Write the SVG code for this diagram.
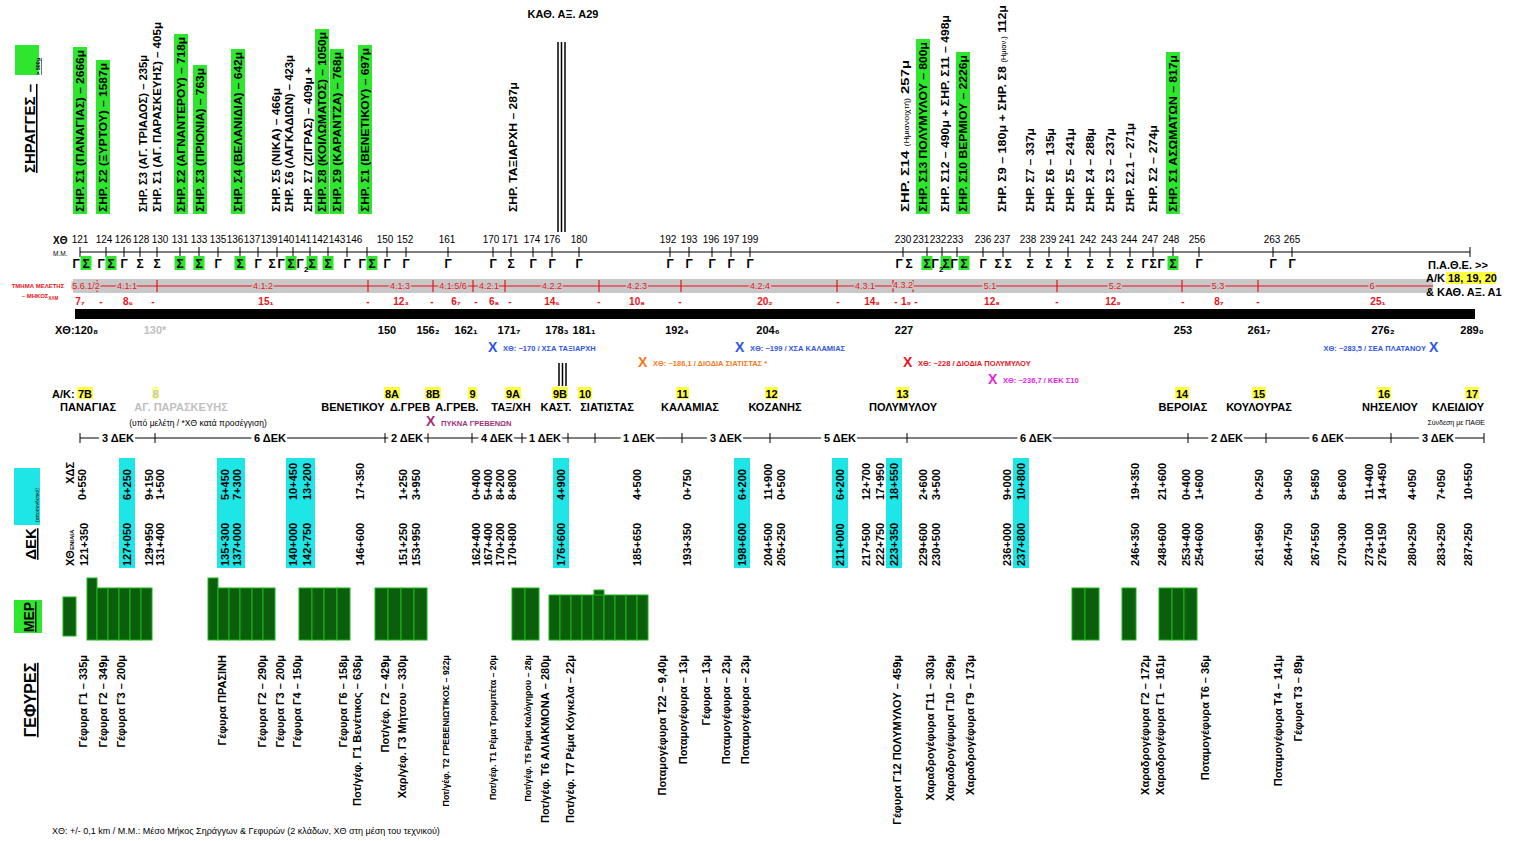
<svg xmlns="http://www.w3.org/2000/svg" width="1515" height="841" viewBox="0 0 1515 841">
<style>
text{font-family:"Liberation Sans",Arial,sans-serif;fill:#000}
.tun{font-size:11px;font-weight:bold}
.gr{fill:#2ee62e}
.cy{fill:#1ee6e6}
.yl{fill:#ffff3c}
.st{font-size:10px}
.ty{font-size:12px;font-weight:bold;text-anchor:middle}
.seg{font-size:9px;fill:#e8151b;text-anchor:middle;stroke:#c8c8c8;stroke-width:3px;paint-order:stroke}
.len{font-size:10px;font-weight:bold;fill:#e8151b;text-anchor:middle}
.ch{font-size:11px;font-weight:bold;text-anchor:middle}
.ak{font-size:11px;font-weight:bold;text-anchor:middle}
.nm{font-size:11px;font-weight:bold;text-anchor:middle}
.dek{font-size:11px;font-weight:bold;text-anchor:middle;stroke:#fff;stroke-width:6px;paint-order:stroke}
.dn{font-size:11px;font-weight:bold}
.br{font-size:11px;font-weight:bold;text-anchor:end}
.brs{font-size:8.8px;font-weight:bold;text-anchor:end}
.mep{fill:#0b5e0b;stroke:#1cb81c;stroke-width:1}
.tick{stroke:#000;stroke-width:1}
.rt{stroke:#e8151b;stroke-width:1.2}
.hd{font-weight:bold;text-decoration:underline}
.sv{font-size:7.5px;font-weight:bold}
</style>

<!-- left headers -->
<g id="hdr-tunnels">
<rect x="15" y="45" width="24" height="30" class="gr"/>
<text class="hd" font-size="15" text-anchor="start" transform="translate(35,173) rotate(-90)">ΣΗΡΑΓΓΕΣ –</text>
<text font-size="5.5" font-weight="bold" text-decoration="underline" transform="translate(40,75) rotate(-90)">&gt; 500μ</text>
</g>
<g id="hdr-dek">
<rect x="14" y="468" width="26" height="57" class="cy"/>
<text font-size="5" transform="translate(39,522) rotate(-90)">(αποσυνδετικό)</text>
<text class="hd" font-size="15" text-anchor="middle" transform="translate(36,544) rotate(-90)">ΔΕΚ</text>
</g>
<g id="hdr-mep">
<rect x="14" y="600" width="28" height="33" class="gr"/>
<text class="hd" font-size="14" text-anchor="middle" transform="translate(34,617) rotate(-90)">ΜΕΡ</text>
</g>
<g id="hdr-bridges">
<text class="hd" font-size="16" text-anchor="middle" transform="translate(36,700) rotate(-90)">ΓΕΦΥΡΕΣ</text>
</g>

<!-- tunnels -->
<g id="tunnels">
<rect x="73" y="47" width="14" height="167" class="gr"/>
<rect x="96" y="60" width="14" height="154" class="gr"/>
<rect x="174" y="34" width="14" height="180" class="gr"/>
<rect x="193" y="65" width="14" height="149" class="gr"/>
<rect x="231" y="49" width="14" height="165" class="gr"/>
<rect x="315" y="29" width="14" height="185" class="gr"/>
<rect x="330" y="49" width="14" height="165" class="gr"/>
<rect x="358" y="45" width="14" height="169" class="gr"/>
<rect x="916" y="39" width="14" height="175" class="gr"/>
<rect x="956" y="52" width="14" height="162" class="gr"/>
<rect x="1166" y="52" width="14" height="162" class="gr"/>
<text class="tun" lengthAdjust="spacingAndGlyphs" textLength="162" transform="translate(84,212) rotate(-90)">ΣΗΡ. Σ1 (ΠΑΝΑΓΙΑΣ) – 2666μ</text>
<text class="tun" lengthAdjust="spacingAndGlyphs" textLength="149" transform="translate(107,212) rotate(-90)">ΣΗΡ. Σ2 (ΞΥΡΤΟΥ) – 1587μ</text>
<text class="tun" lengthAdjust="spacingAndGlyphs" textLength="157" transform="translate(147,212) rotate(-90)">ΣΗΡ. Σ3 (ΑΓ. ΤΡΙΑΔΟΣ) – 235μ</text>
<text class="tun" lengthAdjust="spacingAndGlyphs" textLength="190" transform="translate(161,212) rotate(-90)">ΣΗΡ. Σ1 (ΑΓ. ΠΑΡΑΣΚΕΥΗΣ) – 405μ</text>
<text class="tun" lengthAdjust="spacingAndGlyphs" textLength="175" transform="translate(185,212) rotate(-90)">ΣΗΡ. Σ2 (ΑΓΝΑΝΤΕΡΟΥ) – 718μ</text>
<text class="tun" lengthAdjust="spacingAndGlyphs" textLength="144" transform="translate(204,212) rotate(-90)">ΣΗΡ. Σ3 (ΠΡΙΟΝΙΑ) – 763μ</text>
<text class="tun" lengthAdjust="spacingAndGlyphs" textLength="160" transform="translate(242,212) rotate(-90)">ΣΗΡ. Σ4 (ΒΕΛΑΝΙΔΙΑ) – 642μ</text>
<text class="tun" lengthAdjust="spacingAndGlyphs" textLength="124" transform="translate(280,212) rotate(-90)">ΣΗΡ. Σ5 (ΝΙΚΑ) – 466μ</text>
<text class="tun" lengthAdjust="spacingAndGlyphs" textLength="157" transform="translate(293,212) rotate(-90)">ΣΗΡ. Σ6 (ΛΑΓΚΑΔΙΩΝ) – 423μ</text>
<text class="tun" lengthAdjust="spacingAndGlyphs" textLength="145" transform="translate(312,212) rotate(-90)">ΣΗΡ. Σ7 (ΖΙΓΡΑΣ) – 409μ +</text>
<text class="tun" lengthAdjust="spacingAndGlyphs" textLength="180" transform="translate(326,212) rotate(-90)">ΣΗΡ. Σ8 (ΚΟΙΛΩΜΑΤΟΣ) – 1050μ</text>
<text class="tun" lengthAdjust="spacingAndGlyphs" textLength="160" transform="translate(341,212) rotate(-90)">ΣΗΡ. Σ9 (ΚΑΡΑΝΤΖΑ) – 768μ</text>
<text class="tun" lengthAdjust="spacingAndGlyphs" textLength="164" transform="translate(369,212) rotate(-90)">ΣΗΡ. Σ1 (ΒΕΝΕΤΙΚΟΥ) – 697μ</text>
<text class="tun" lengthAdjust="spacingAndGlyphs" textLength="130" transform="translate(517,212) rotate(-90)">ΣΗΡ. ΤΑΞΙΑΡΧΗ – 287μ</text>
<text class="tun" lengthAdjust="spacingAndGlyphs" textLength="152" transform="translate(909,212) rotate(-90)">ΣΗΡ. Σ14 <tspan font-size="6.5" font-weight="normal">(Ημιανοιχτή)</tspan> 257μ</text>
<text class="tun" lengthAdjust="spacingAndGlyphs" textLength="170" transform="translate(927,212) rotate(-90)">ΣΗΡ. Σ13 ΠΟΛΥΜΥΛΟΥ – 800μ</text>
<text class="tun" lengthAdjust="spacingAndGlyphs" textLength="197" transform="translate(949,212) rotate(-90)">ΣΗΡ. Σ12 – 490μ + ΣΗΡ. Σ11 – 498μ</text>
<text class="tun" lengthAdjust="spacingAndGlyphs" textLength="157" transform="translate(967,212) rotate(-90)">ΣΗΡ. Σ10 ΒΕΡΜΙΟΥ – 2226μ</text>
<text class="tun" lengthAdjust="spacingAndGlyphs" textLength="207" transform="translate(1006,212) rotate(-90)">ΣΗΡ. Σ9 – 180μ + ΣΗΡ. Σ8 <tspan font-size="6.5" font-weight="normal">(Ημιαν.)</tspan> 112μ</text>
<text class="tun" lengthAdjust="spacingAndGlyphs" textLength="84" transform="translate(1034,212) rotate(-90)">ΣΗΡ. Σ7 – 337μ</text>
<text class="tun" lengthAdjust="spacingAndGlyphs" textLength="84" transform="translate(1054,212) rotate(-90)">ΣΗΡ. Σ6 – 135μ</text>
<text class="tun" lengthAdjust="spacingAndGlyphs" textLength="84" transform="translate(1074,212) rotate(-90)">ΣΗΡ. Σ5 – 241μ</text>
<text class="tun" lengthAdjust="spacingAndGlyphs" textLength="84" transform="translate(1094,212) rotate(-90)">ΣΗΡ. Σ4 – 288μ</text>
<text class="tun" lengthAdjust="spacingAndGlyphs" textLength="84" transform="translate(1114,212) rotate(-90)">ΣΗΡ. Σ3 – 237μ</text>
<text class="tun" lengthAdjust="spacingAndGlyphs" textLength="89" transform="translate(1134,212) rotate(-90)">ΣΗΡ. Σ2.1 – 271μ</text>
<text class="tun" lengthAdjust="spacingAndGlyphs" textLength="87" transform="translate(1157,212) rotate(-90)">ΣΗΡ. Σ2 – 274μ</text>
<text class="tun" lengthAdjust="spacingAndGlyphs" textLength="157" transform="translate(1177,212) rotate(-90)">ΣΗΡ. Σ1 ΑΣΩΜΑΤΩΝ – 817μ</text>
</g>

<!-- A29 crossing -->
<g id="a29">
<text x="563" y="18" font-size="11" font-weight="bold" text-anchor="middle">ΚΑΘ. ΑΞ. Α29</text>
<line x1="558" y1="42" x2="558" y2="232" stroke="#000" stroke-width="1.5"/>
<line x1="561.5" y1="42" x2="561.5" y2="232" stroke="#000" stroke-width="1.5"/>
<line x1="565" y1="42" x2="565" y2="232" stroke="#000" stroke-width="1.5"/>
<line x1="559" y1="363" x2="559" y2="386" stroke="#000" stroke-width="1.5"/>
<line x1="562.5" y1="363" x2="562.5" y2="386" stroke="#000" stroke-width="1.5"/>
<line x1="566" y1="363" x2="566" y2="386" stroke="#000" stroke-width="1.5"/>
</g>

<!-- station axis -->
<g id="axis">
<text x="53" y="244" font-size="10" font-weight="bold">ΧΘ</text>
<text x="53" y="256" font-size="6.5">Μ.Μ.</text>
<line x1="80" y1="252" x2="1470" y2="252" stroke="#000" stroke-width="1"/>
<g class="tick">
<path d="M80 247v10M106 247v10M124 247v10M140 247v10M157 247v10M180 247v10M199 247v10M218 247v10M240 247v10M258 247v10M277 247v10M293 247v10M310 247v10M328 247v10M347 247v10M367 247v10M387 247v10M406 247v10M448 247v10M493 247v10M511 247v10M533 247v10M552 247v10M579 247v10M670 247v10M689 247v10M712 247v10M731 247v10M750 247v10M903 247v10M927 247v10M942 247v10M957 247v10M983 247v10M1003 247v10M1030 247v10M1049 247v10M1068 247v10M1090 247v10M1110 247v10M1130 247v10M1153 247v10M1173 247v10M1199 247v10M1273 247v10M1292 247v10M1470 247v10"/>
</g>
<g class="st" text-anchor="middle">
<text x="80" y="243">121</text><text x="104" y="243">124</text><text x="123" y="243">126</text><text x="141" y="243">128</text><text x="160" y="243">130</text><text x="180" y="243">131</text><text x="199" y="243">133</text><text x="218" y="243">135</text><text x="235" y="243">136</text><text x="252" y="243">137</text><text x="269" y="243">139</text><text x="286" y="243">140</text><text x="303" y="243">141</text><text x="320" y="243">142</text><text x="337" y="243">143</text><text x="354" y="243">146</text><text x="385" y="243">150</text><text x="405" y="243">152</text><text x="447" y="243">161</text><text x="491" y="243">170</text><text x="510" y="243">171</text><text x="532" y="243">174</text><text x="552" y="243">176</text><text x="579" y="243">180</text><text x="668" y="243">192</text><text x="689" y="243">193</text><text x="711" y="243">196</text><text x="731" y="243">197</text><text x="750" y="243">199</text><text x="903" y="243">230</text><text x="921" y="243">231</text><text x="938" y="243">232</text><text x="955" y="243">233</text><text x="983" y="243">236</text><text x="1002" y="243">237</text><text x="1028" y="243">238</text><text x="1048" y="243">239</text><text x="1067" y="243">241</text><text x="1088" y="243">242</text><text x="1109" y="243">243</text><text x="1129" y="243">244</text><text x="1150" y="243">247</text><text x="1171" y="243">248</text><text x="1197" y="243">256</text><text x="1272" y="243">263</text><text x="1292" y="243">265</text>
</g>
</g>

<!-- structure types -->
<g id="types">
<g class="gr">
<rect x="80.5" y="256" width="11" height="14"/><rect x="105.5" y="256" width="11" height="14"/><rect x="174.5" y="256" width="11" height="14"/><rect x="193.5" y="256" width="11" height="14"/><rect x="234.5" y="256" width="11" height="14"/><rect x="285.5" y="256" width="11" height="14"/><rect x="306.5" y="256" width="11" height="14"/><rect x="322.5" y="256" width="11" height="14"/><rect x="366.5" y="256" width="11" height="14"/><rect x="921.5" y="256" width="11" height="14"/><rect x="940.5" y="256" width="11" height="14"/><rect x="958.5" y="256" width="11" height="14"/><rect x="1167.5" y="256" width="11" height="14"/>
</g>
<text class="ty" x="76" y="268">Γ</text><text class="ty" x="86" y="268">Σ</text>
<text class="ty" x="101" y="268">Γ</text><text class="ty" x="111" y="268">Σ</text>
<text class="ty" x="124" y="268">Γ</text><text class="ty" x="140" y="268">Σ</text><text class="ty" x="157" y="268">Σ</text>
<text class="ty" x="180" y="268">Σ</text><text class="ty" x="199" y="268">Σ</text><text class="ty" x="218" y="268">Γ</text>
<text class="ty" x="240" y="268">Σ</text><text class="ty" x="258" y="268">Γ</text>
<text class="ty" x="272" y="268">Σ</text><text class="ty" x="281" y="268">Γ</text>
<text class="ty" x="291" y="268">Σ</text><text class="ty" x="300" y="268">Γ</text><text x="304" y="272" font-size="8" font-weight="bold">2</text><text class="ty" x="312" y="268">Σ</text>
<text class="ty" x="328" y="268">Σ</text><text class="ty" x="347" y="268">Γ</text>
<text class="ty" x="362" y="268">Γ</text><text class="ty" x="372" y="268">Σ</text>
<text class="ty" x="387" y="268">Γ</text><text class="ty" x="406" y="268">Γ</text><text class="ty" x="448" y="268">Γ</text>
<text class="ty" x="493" y="268">Γ</text><text class="ty" x="511" y="268">Σ</text><text class="ty" x="533" y="268">Γ</text><text class="ty" x="552" y="268">Γ</text><text class="ty" x="579" y="268">Γ</text>
<text class="ty" x="670" y="268">Γ</text><text class="ty" x="689" y="268">Γ</text><text class="ty" x="712" y="268">Γ</text><text class="ty" x="731" y="268">Γ</text><text class="ty" x="750" y="268">Γ</text>
<text class="ty" x="899" y="268">Γ</text><text class="ty" x="909" y="268">Σ</text>
<text class="ty" x="927" y="268">Σ</text>
<text class="ty" x="935" y="268">Γ</text><text x="939" y="272" font-size="8" font-weight="bold">2</text><text class="ty" x="946" y="268">Σ</text>
<text class="ty" x="954" y="268">Γ</text><text class="ty" x="964" y="268">Σ</text>
<text class="ty" x="983" y="268">Γ</text><text class="ty" x="998" y="268">Σ</text><text class="ty" x="1008" y="268">Σ</text>
<text class="ty" x="1030" y="268">Σ</text><text class="ty" x="1049" y="268">Σ</text><text class="ty" x="1068" y="268">Σ</text><text class="ty" x="1090" y="268">Σ</text><text class="ty" x="1110" y="268">Σ</text><text class="ty" x="1130" y="268">Σ</text>
<text class="ty" x="1145" y="268">Γ</text><text class="ty" x="1153" y="268">Σ</text><text class="ty" x="1161" y="268">Γ</text>
<text class="ty" x="1173" y="268">Σ</text><text class="ty" x="1199" y="268">Γ</text><text class="ty" x="1273" y="268">Γ</text><text class="ty" x="1292" y="268">Γ</text>
</g>

<!-- study sections -->
<g id="sections">
<text x="38" y="288" font-size="6" font-weight="bold" text-anchor="middle" style="fill:#e8151b">ΤΜΗΜΑ ΜΕΛΕΤΗΣ</text>
<text x="40" y="298" font-size="6" font-weight="bold" text-anchor="middle" style="fill:#e8151b">– ΜΗΚΟΣ<tspan font-size="4.5" dy="1.5">ΧΛΜ</tspan></text>
<rect x="73" y="279" width="1360" height="14" fill="#c8c8c8"/>
<line x1="97" y1="286" x2="1433" y2="286" class="rt"/>
<path class="rt" d="M97 280v12M157 280v12M368 280v12M433 280v12M473 280v12M505 280v12M599 280v12M681 280v12M837 280v12M893 280v12M913 280v12M1057 280v12M1182 280v12M1258 280v12"/>
<text class="seg" x="86" y="289" font-size="6">5.6.1/2</text>
<text class="seg" x="127" y="289">4.1.1</text>
<text class="seg" x="263" y="289">4.1.2</text>
<text class="seg" x="400" y="289">4.1.3</text>
<text class="seg" x="453" y="289">4.1.5/6</text>
<text class="seg" x="489" y="289">4.2.1</text>
<text class="seg" x="552" y="289">4.2.2</text>
<text class="seg" x="637" y="289">4.2.3</text>
<text class="seg" x="760" y="289">4.2.4</text>
<text class="seg" x="865" y="289">4.3.1</text>
<text class="seg" x="903" y="288" font-size="6">4.3.2</text>
<text class="seg" x="990" y="289">5.1</text>
<text class="seg" x="1115" y="289">5.2</text>
<text class="seg" x="1218" y="289">5.3</text>
<text class="seg" x="1372" y="289">6</text>
<text class="len" x="80" y="305">7₇</text><text class="len" x="101" y="305">-</text><text class="len" x="128" y="305">8₆</text><text class="len" x="153" y="305">-</text>
<text class="len" x="266" y="305">15₁</text><text class="len" x="368" y="305">-</text><text class="len" x="401" y="305">12₃</text><text class="len" x="432" y="305">-</text>
<text class="len" x="456" y="305">6₇</text><text class="len" x="476" y="305">-</text><text class="len" x="494" y="305">6₈</text><text class="len" x="510" y="305">-</text>
<text class="len" x="552" y="305">14₆</text><text class="len" x="599" y="305">-</text><text class="len" x="637" y="305">10₈</text><text class="len" x="680" y="305">-</text>
<text class="len" x="765" y="305">20₂</text><text class="len" x="838" y="305">-</text><text class="len" x="872" y="305">14₉</text>
<text class="len" x="896" y="305">-</text><text class="len" x="906" y="305">1₉</text><text class="len" x="916" y="305">-</text>
<text class="len" x="992" y="305">12₈</text><text class="len" x="1057" y="305">-</text><text class="len" x="1113" y="305">12₉</text><text class="len" x="1183" y="305">-</text>
<text class="len" x="1219" y="305">8₇</text><text class="len" x="1258" y="305">-</text><text class="len" x="1378" y="305">25₁</text>
</g>

<!-- end connection -->
<g id="pathe">
<rect x="1446" y="272" width="50" height="12" class="yl"/>
<text x="1428" y="269" font-size="11" font-weight="bold">Π.Α.Θ.Ε. &gt;&gt;</text>
<text x="1426" y="282" font-size="11" font-weight="bold">Α/Κ <tspan>18, 19, 20</tspan></text>
<text x="1426" y="296" font-size="11" font-weight="bold">&amp; ΚΑΘ. ΑΞ. Α1</text>
</g>

<!-- black bar and chainages -->
<g id="chainage">
<rect x="75" y="309" width="1400" height="10" fill="#000"/>
<text x="55" y="334" font-size="11" font-weight="bold">ΧΘ:120₈</text>
<text class="ch" x="155" y="334" style="fill:#c0c0c0">130*</text>
<text class="ch" x="387" y="334">150</text>
<text class="ch" x="428" y="334">156₂</text>
<text class="ch" x="466" y="334">162₁</text>
<text class="ch" x="509" y="334">171₇</text>
<text class="ch" x="557" y="334">178₃</text>
<text class="ch" x="584" y="334">181₁</text>
<text class="ch" x="677" y="334">192₄</text>
<text class="ch" x="768" y="334">204₆</text>
<text class="ch" x="904" y="334">227</text>
<text class="ch" x="1183" y="334">253</text>
<text class="ch" x="1259" y="334">261₇</text>
<text class="ch" x="1383" y="334">276₂</text>
<text class="ch" x="1472" y="334">289₀</text>
</g>

<!-- service areas -->
<g id="services">
<text x="488" y="352" font-size="14" font-weight="bold" style="fill:#2f55e6">X</text>
<text class="sv" x="503" y="351" style="fill:#2f55e6">ΧΘ: ~170 / ΧΣΑ ΤΑΞΙΑΡΧΗ</text>
<text x="638" y="367" font-size="14" font-weight="bold" style="fill:#f07a1a">X</text>
<text class="sv" x="653" y="366" style="fill:#f07a1a">ΧΘ: ~186,1 / ΔΙΟΔΙΑ ΣΙΑΤΙΣΤΑΣ *</text>
<text x="735" y="352" font-size="14" font-weight="bold" style="fill:#2f55e6">X</text>
<text class="sv" x="750" y="351" style="fill:#2f55e6">ΧΘ: ~199 / ΧΣΑ ΚΑΛΑΜΙΑΣ</text>
<text x="903" y="367" font-size="14" font-weight="bold" style="fill:#e8151b">X</text>
<text class="sv" x="918" y="366" style="fill:#e8151b">ΧΘ: ~228 / ΔΙΟΔΙΑ ΠΟΛΥΜΥΛΟΥ</text>
<text x="988" y="384" font-size="14" font-weight="bold" style="fill:#e61ee6">X</text>
<text class="sv" x="1003" y="383" style="fill:#e61ee6">ΧΘ: ~236,7 / ΚΕΚ Σ10</text>
<text class="sv" x="1426" y="351" text-anchor="end" style="fill:#2f55e6">ΧΘ: ~283,5 / ΣΕΑ ΠΛΑΤΑΝΟΥ</text>
<text x="1429" y="352" font-size="14" font-weight="bold" style="fill:#2f55e6">X</text>
<text x="426" y="426" font-size="14" font-weight="bold" style="fill:#a0307a">X</text>
<text class="sv" x="441" y="426" style="fill:#a0307a">ΠΥΚΝΑ ΓΡΕΒΕΝΩΝ</text>
</g>

<!-- interchanges -->
<g id="interchanges">
<g class="yl">
<rect x="77" y="387" width="16" height="12"/><rect x="152" y="387" width="7" height="12" style="fill:#ffff9a"/><rect x="384" y="387" width="16" height="12"/><rect x="425" y="387" width="16" height="12"/><rect x="468" y="387" width="9" height="12"/><rect x="505" y="387" width="16" height="12"/><rect x="552" y="387" width="16" height="12"/><rect x="578" y="387" width="14" height="12"/><rect x="676" y="387" width="13" height="12"/><rect x="765" y="387" width="13" height="12"/><rect x="896" y="387" width="13" height="12"/><rect x="1175" y="387" width="14" height="12"/><rect x="1252" y="387" width="14" height="12"/><rect x="1377" y="387" width="14" height="12"/><rect x="1465" y="387" width="14" height="12"/>
</g>
<text x="52" y="398" font-size="11" font-weight="bold">Α/Κ:</text>
<text class="ak" x="85" y="398">7Β</text>
<text class="ak" x="155.5" y="398" style="fill:#c8c8a0">8</text>
<text class="ak" x="392" y="398">8Α</text>
<text class="ak" x="433" y="398">8Β</text>
<text class="ak" x="472.5" y="398">9</text>
<text class="ak" x="513" y="398">9Α</text>
<text class="ak" x="560" y="398">9Β</text>
<text class="ak" x="585" y="398">10</text>
<text class="ak" x="682.5" y="398">11</text>
<text class="ak" x="771.5" y="398">12</text>
<text class="ak" x="902.5" y="398">13</text>
<text class="ak" x="1182" y="398">14</text>
<text class="ak" x="1259" y="398">15</text>
<text class="ak" x="1384" y="398">16</text>
<text class="ak" x="1472" y="398">17</text>
<text class="nm" x="88" y="411">ΠΑΝΑΓΙΑΣ</text>
<text class="nm" x="181" y="411" style="fill:#c0c0c0">ΑΓ. ΠΑΡΑΣΚΕΥΗΣ</text>
<text class="nm" x="353" y="411">ΒΕΝΕΤΙΚΟΥ</text>
<text class="nm" x="410" y="411">Δ.ΓΡΕΒ</text>
<text class="nm" x="457" y="411">Α.ΓΡΕΒ.</text>
<text class="nm" x="511" y="411">ΤΑΞ/ΧΗ</text>
<text class="nm" x="556" y="411">ΚΑΣΤ.</text>
<text class="nm" x="607" y="411">ΣΙΑΤΙΣΤΑΣ</text>
<text class="nm" x="690" y="411">ΚΑΛΑΜΙΑΣ</text>
<text class="nm" x="775" y="411">ΚΟΖΑΝΗΣ</text>
<text class="nm" x="903" y="411">ΠΟΛΥΜΥΛΟΥ</text>
<text class="nm" x="1183" y="411">ΒΕΡΟΙΑΣ</text>
<text class="nm" x="1259" y="411">ΚΟΥΛΟΥΡΑΣ</text>
<text class="nm" x="1390" y="411">ΝΗΣΕΛΙΟΥ</text>
<text class="nm" x="1458" y="411">ΚΛΕΙΔΙΟΥ</text>
<text x="198" y="426" font-size="8.5" text-anchor="middle">(υπό μελέτη / *ΧΘ κατά προσέγγιση)</text>
<text x="1485" y="425" font-size="7" text-anchor="end">Σύνδεση με ΠΑΘΕ</text>
</g>

<!-- DEK spans -->
<g id="dek-spans">
<line x1="80" y1="438" x2="1484" y2="438" stroke="#000" stroke-width="1"/>
<path class="tick" d="M80 433v10M155 433v10M385 433v10M428 433v10M472 433v10M522 433v10M568 433v10M595 433v10M682 433v10M770 433v10M907 433v10M1188 433v10M1266 433v10M1391 433v10M1484 433v10"/>
<text class="dek" x="118" y="442">3 ΔΕΚ</text>
<text class="dek" x="270" y="442">6 ΔΕΚ</text>
<text class="dek" x="407" y="442">2 ΔΕΚ</text>
<text class="dek" x="497" y="442">4 ΔΕΚ</text>
<text class="dek" x="545" y="442">1 ΔΕΚ</text>
<text class="dek" x="639" y="442">1 ΔΕΚ</text>
<text class="dek" x="726" y="442">3 ΔΕΚ</text>
<text class="dek" x="840" y="442">5 ΔΕΚ</text>
<text class="dek" x="1036" y="442">6 ΔΕΚ</text>
<text class="dek" x="1227" y="442">2 ΔΕΚ</text>
<text class="dek" x="1328" y="442">6 ΔΕΚ</text>
<text class="dek" x="1438" y="442">3 ΔΕΚ</text>
</g>

<!-- DEK columns -->
<g id="dek-cols">
<g class="cy">
<rect x="119" y="458" width="16" height="110"/><rect x="217" y="458" width="28" height="110"/><rect x="286" y="458" width="29" height="110"/><rect x="553" y="458" width="16" height="110"/><rect x="734" y="458" width="16" height="110"/><rect x="832" y="458" width="16" height="110"/><rect x="886" y="458" width="16" height="110"/><rect x="1013" y="458" width="16" height="110"/>
</g>
<text class="dn" text-anchor="end" transform="translate(74,462) rotate(-90)">ΧΔΣ</text>
<text class="dn" text-anchor="start" transform="translate(74,566) rotate(-90)">ΧΘ<tspan font-size="6">ΕΝΙΑΙΑ</tspan></text>
<g class="dn">
<text transform="translate(86,500) rotate(-90)">0+550</text><text transform="translate(88,566) rotate(-90)">121+350</text>
<text transform="translate(131,500) rotate(-90)">6+250</text><text transform="translate(131,566) rotate(-90)">127+050</text>
<text transform="translate(153,500) rotate(-90)">9+150</text><text transform="translate(164,500) rotate(-90)">1+500</text><text transform="translate(153,566) rotate(-90)">129+950</text><text transform="translate(164,566) rotate(-90)">131+400</text>
<text transform="translate(229,500) rotate(-90)">5+450</text><text transform="translate(241,500) rotate(-90)">7+300</text><text transform="translate(229,566) rotate(-90)">135+300</text><text transform="translate(241,566) rotate(-90)">137+000</text>
<text transform="translate(297,500) rotate(-90)">10+450</text><text transform="translate(311,500) rotate(-90)">13+200</text><text transform="translate(297,566) rotate(-90)">140+000</text><text transform="translate(311,566) rotate(-90)">142+750</text>
<text transform="translate(364,500) rotate(-90)">17+350</text><text transform="translate(364,566) rotate(-90)">146+600</text>
<text transform="translate(407,500) rotate(-90)">1+250</text><text transform="translate(420,500) rotate(-90)">3+950</text><text transform="translate(407,566) rotate(-90)">151+250</text><text transform="translate(420,566) rotate(-90)">153+950</text>
<text transform="translate(480,500) rotate(-90)">0+400</text><text transform="translate(492,500) rotate(-90)">5+400</text><text transform="translate(504,500) rotate(-90)">8+200</text><text transform="translate(516,500) rotate(-90)">8+800</text>
<text transform="translate(480,566) rotate(-90)">162+400</text><text transform="translate(492,566) rotate(-90)">167+400</text><text transform="translate(504,566) rotate(-90)">170+200</text><text transform="translate(516,566) rotate(-90)">170+800</text>
<text transform="translate(565,500) rotate(-90)">4+900</text><text transform="translate(565,566) rotate(-90)">176+600</text>
<text transform="translate(641,500) rotate(-90)">4+500</text><text transform="translate(641,566) rotate(-90)">185+650</text>
<text transform="translate(691,500) rotate(-90)">0+750</text><text transform="translate(691,566) rotate(-90)">193+350</text>
<text transform="translate(746,500) rotate(-90)">6+200</text><text transform="translate(746,566) rotate(-90)">198+600</text>
<text transform="translate(772,500) rotate(-90)">11+900</text><text transform="translate(785,500) rotate(-90)">0+500</text><text transform="translate(772,566) rotate(-90)">204+500</text><text transform="translate(785,566) rotate(-90)">205+250</text>
<text transform="translate(844,500) rotate(-90)">6+200</text><text transform="translate(844,566) rotate(-90)">211+000</text>
<text transform="translate(870,500) rotate(-90)">12+700</text><text transform="translate(884,500) rotate(-90)">17+950</text><text transform="translate(898,500) rotate(-90)">18+550</text>
<text transform="translate(870,566) rotate(-90)">217+500</text><text transform="translate(884,566) rotate(-90)">222+750</text><text transform="translate(898,566) rotate(-90)">223+350</text>
<text transform="translate(927,500) rotate(-90)">2+600</text><text transform="translate(940,500) rotate(-90)">3+500</text><text transform="translate(927,566) rotate(-90)">229+600</text><text transform="translate(940,566) rotate(-90)">230+500</text>
<text transform="translate(1011,500) rotate(-90)">9+000</text><text transform="translate(1025,500) rotate(-90)">10+800</text><text transform="translate(1011,566) rotate(-90)">236+000</text><text transform="translate(1025,566) rotate(-90)">237+800</text>
<text transform="translate(1139,500) rotate(-90)">19+350</text><text transform="translate(1139,566) rotate(-90)">246+350</text>
<text transform="translate(1166,500) rotate(-90)">21+600</text><text transform="translate(1166,566) rotate(-90)">248+600</text>
<text transform="translate(1190,500) rotate(-90)">0+400</text><text transform="translate(1203,500) rotate(-90)">1+600</text><text transform="translate(1190,566) rotate(-90)">253+400</text><text transform="translate(1203,566) rotate(-90)">254+600</text>
<text transform="translate(1263,500) rotate(-90)">0+250</text><text transform="translate(1263,566) rotate(-90)">261+950</text>
<text transform="translate(1292,500) rotate(-90)">3+050</text><text transform="translate(1292,566) rotate(-90)">264+750</text>
<text transform="translate(1319,500) rotate(-90)">5+850</text><text transform="translate(1319,566) rotate(-90)">267+550</text>
<text transform="translate(1346,500) rotate(-90)">8+600</text><text transform="translate(1346,566) rotate(-90)">270+300</text>
<text transform="translate(1373,500) rotate(-90)">11+400</text><text transform="translate(1386,500) rotate(-90)">14+450</text><text transform="translate(1373,566) rotate(-90)">273+100</text><text transform="translate(1386,566) rotate(-90)">276+150</text>
<text transform="translate(1416,500) rotate(-90)">4+050</text><text transform="translate(1416,566) rotate(-90)">280+250</text>
<text transform="translate(1445,500) rotate(-90)">7+050</text><text transform="translate(1445,566) rotate(-90)">283+250</text>
<text transform="translate(1472,500) rotate(-90)">10+550</text><text transform="translate(1472,566) rotate(-90)">287+250</text>
</g>
</g>

<!-- MEP blocks -->
<g id="mep">
<rect class="mep" x="63" y="597" width="13" height="39"/>
<rect class="mep" x="87" y="578" width="10" height="62"/>
<rect class="mep" x="97" y="588" width="11" height="52"/><rect class="mep" x="108" y="588" width="11" height="52"/><rect class="mep" x="119" y="588" width="11" height="52"/><rect class="mep" x="130" y="588" width="11" height="52"/><rect class="mep" x="141" y="588" width="11" height="52"/>
<rect class="mep" x="208" y="578" width="10" height="62"/>
<rect class="mep" x="218" y="588" width="11" height="52"/><rect class="mep" x="229" y="588" width="11" height="52"/><rect class="mep" x="240" y="588" width="12" height="52"/><rect class="mep" x="252" y="588" width="11" height="52"/><rect class="mep" x="263" y="588" width="12" height="52"/>
<rect class="mep" x="299" y="588" width="13" height="52"/><rect class="mep" x="312" y="588" width="12" height="52"/><rect class="mep" x="324" y="588" width="13" height="52"/><rect class="mep" x="337" y="588" width="13" height="52"/>
<rect class="mep" x="375" y="588" width="13" height="52"/><rect class="mep" x="388" y="588" width="13" height="52"/><rect class="mep" x="401" y="588" width="13" height="52"/><rect class="mep" x="414" y="588" width="13" height="52"/>
<rect class="mep" x="512" y="588" width="13" height="52"/><rect class="mep" x="525" y="588" width="14" height="52"/>
<rect class="mep" x="594" y="590" width="10" height="8"/>
<rect class="mep" x="549" y="595" width="11" height="45"/><rect class="mep" x="560" y="595" width="11" height="45"/><rect class="mep" x="571" y="595" width="11" height="45"/><rect class="mep" x="582" y="595" width="11" height="45"/><rect class="mep" x="593" y="595" width="11" height="45"/><rect class="mep" x="604" y="595" width="11" height="45"/><rect class="mep" x="615" y="595" width="11" height="45"/><rect class="mep" x="626" y="595" width="11" height="45"/><rect class="mep" x="637" y="595" width="11" height="45"/>
<rect class="mep" x="1072" y="588" width="13" height="52"/><rect class="mep" x="1085" y="588" width="14" height="52"/>
<rect class="mep" x="1122" y="588" width="14" height="52"/>
<rect class="mep" x="1159" y="588" width="13" height="52"/><rect class="mep" x="1172" y="588" width="12" height="52"/><rect class="mep" x="1184" y="588" width="13" height="52"/>
</g>

<!-- bridges -->
<g id="bridges">
<text class="br" transform="translate(87,655) rotate(-90)">Γέφυρα Γ1 – 335μ</text>
<text class="br" transform="translate(107,655) rotate(-90)">Γέφυρα Γ2 – 349μ</text>
<text class="br" transform="translate(125,655) rotate(-90)">Γέφυρα Γ3 – 200μ</text>
<text class="br" transform="translate(226,655) rotate(-90)">Γέφυρα ΠΡΑΣΙΝΗ</text>
<text class="br" transform="translate(266,655) rotate(-90)">Γέφυρα Γ2 – 290μ</text>
<text class="br" transform="translate(284,655) rotate(-90)">Γέφυρα Γ3 – 200μ</text>
<text class="br" transform="translate(301,655) rotate(-90)">Γέφυρα Γ4 – 150μ</text>
<text class="br" transform="translate(347,655) rotate(-90)">Γέφυρα Γ6 – 158μ</text>
<text class="br" transform="translate(361,655) rotate(-90)">Ποτ/γέφ. Γ1 Βενέτικος – 636μ</text>
<text class="br" transform="translate(389,655) rotate(-90)">Ποτ/γέφ. Γ2 – 429μ</text>
<text class="br" transform="translate(406,655) rotate(-90)">Χαρ/γέφ. Γ3 Μήτσου – 330μ</text>
<text class="brs" transform="translate(449,655) rotate(-90)">Ποτ/γέφ. Τ2 ΓΡΕΒΕΝΙΩΤΙΚΟΣ – 922μ</text>
<text class="brs" transform="translate(496,655) rotate(-90)">Ποτ/γέφ. Τ1 Ρέμα Τρουμπέτα – 20μ</text>
<text class="brs" transform="translate(531,655) rotate(-90)">Ποτ/γέφ. Τ5 Ρέμα Καλόγηρου – 28μ</text>
<text class="br" transform="translate(549,655) rotate(-90)">Ποτ/γέφ. Τ6 ΑΛΙΑΚΜΟΝΑ – 280μ</text>
<text class="br" transform="translate(574,655) rotate(-90)">Ποτ/γέφ. Τ7 Ρέμα Κόγκελα – 22μ</text>
<text class="br" transform="translate(666,655) rotate(-90)">Ποταμογέφυρα Τ22 – 9,40μ</text>
<text class="br" transform="translate(687,655) rotate(-90)">Ποταμογέφυρα – 13μ</text>
<text class="br" transform="translate(710,655) rotate(-90)">Γέφυρα – 13μ</text>
<text class="br" transform="translate(730,655) rotate(-90)">Ποταμογέφυρα – 23μ</text>
<text class="br" transform="translate(749,655) rotate(-90)">Ποταμογέφυρα – 23μ</text>
<text class="br" transform="translate(901,655) rotate(-90)">Γέφυρα Γ12 ΠΟΛΥΜΥΛΟΥ – 459μ</text>
<text class="br" transform="translate(934,655) rotate(-90)">Χαραδρογέφυρα Γ11 – 303μ</text>
<text class="br" transform="translate(954,655) rotate(-90)">Χαραδρογέφυρα Γ10 – 269μ</text>
<text class="br" transform="translate(974,655) rotate(-90)">Χαραδρογέφυρα Γ9 – 173μ</text>
<text class="br" transform="translate(1149,655) rotate(-90)">Χαραδρογέφυρα Γ2 – 172μ</text>
<text class="br" transform="translate(1164,655) rotate(-90)">Χαραδρογέφυρα Γ1 – 161μ</text>
<text class="br" transform="translate(1209,655) rotate(-90)">Ποταμογέφυρα Τ6 – 36μ</text>
<text class="br" transform="translate(1282,655) rotate(-90)">Ποταμογέφυρα Τ4 – 141μ</text>
<text class="br" transform="translate(1302,655) rotate(-90)">Γέφυρα Τ3 – 89μ</text>
</g>

<text id="footnote" x="52" y="834" font-size="9">ΧΘ: +/- 0,1 km / Μ.Μ.: Μέσο Μήκος Σηράγγων &amp; Γεφυρών (2 κλάδων, ΧΘ στη μέση του τεχνικού)</text>
</svg>
